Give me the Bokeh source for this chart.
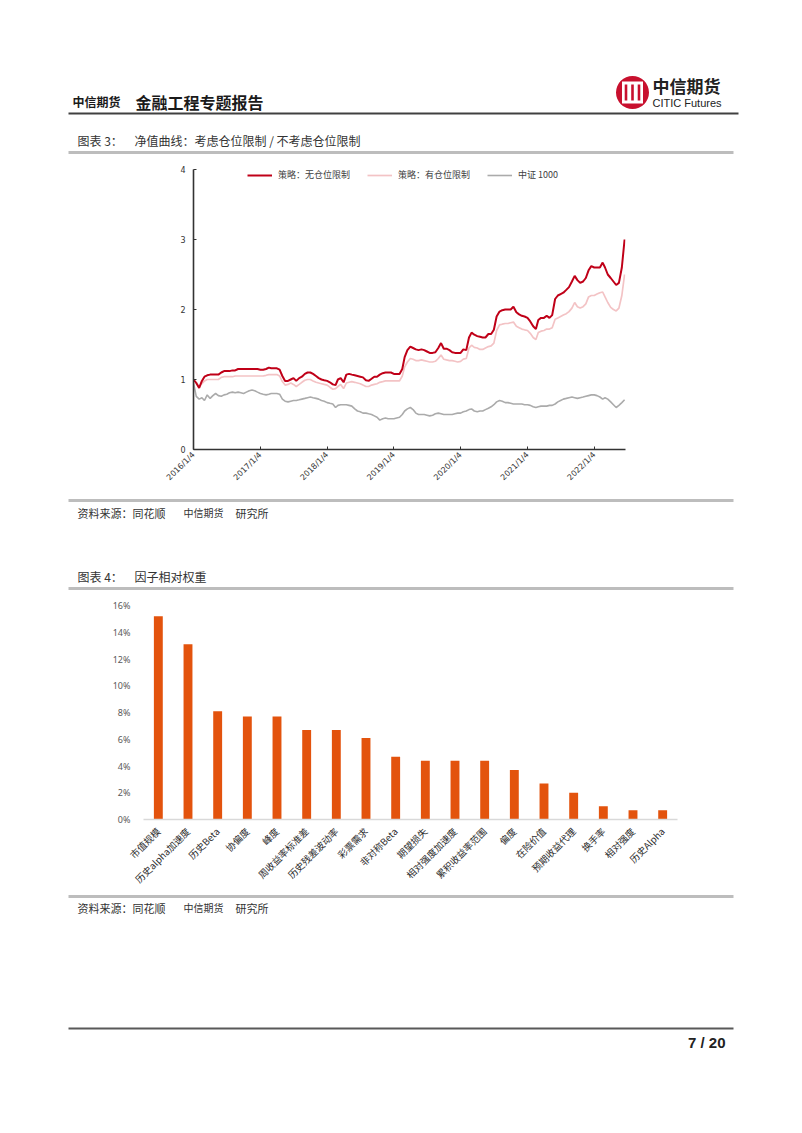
from math import pi
import pandas as pd
from bokeh.plotting import figure
from bokeh.models import (Range1d, FactorRange, FixedTicker, NumeralTickFormatter,
                          CustomJSTickFormatter, Legend, LegendItem)
from bokeh.embed import file_html
from bokeh.resources import INLINE
from bokeh.core.properties import value

CJK = "Noto Sans CJK SC"
W = 802

# ---------------- chart 1 data (net value curves, semi-monthly samples) ----------------
dates = [f"{y}-{m:02d}-{d:02d}" for y in range(2016, 2023) for m in range(1, 13) for d in (4, 19)][:156]

no_limit = [
    1.00, 0.95, 0.88, 0.98, 1.04, 1.06, 1.07, 1.07, 1.07, 1.07, 1.10, 1.12, 1.12, 1.12, 1.13, 1.13, 1.15, 1.15, 1.15, 1.15, 1.15, 1.15, 1.15, 1.15,
    1.14, 1.14, 1.15, 1.17, 1.16, 1.16, 1.16, 1.14, 1.05, 0.98, 0.98, 1.00, 1.02, 0.98, 1.02, 1.04, 1.08, 1.10, 1.10, 1.08, 1.05, 1.02, 1.00, 0.99,
    0.98, 0.96, 0.93, 0.92, 1.00, 1.02, 0.96, 1.07, 1.08, 1.07, 1.06, 1.05, 1.04, 1.03, 0.99, 0.98, 1.01, 1.04, 1.04, 1.07, 1.09, 1.10, 1.10, 1.10,
    1.08, 1.08, 1.08, 1.15, 1.32, 1.42, 1.47, 1.45, 1.43, 1.42, 1.43, 1.42, 1.40, 1.38, 1.38, 1.39, 1.45, 1.52, 1.44, 1.44, 1.42, 1.39, 1.38, 1.38,
    1.38, 1.43, 1.42, 1.60, 1.67, 1.64, 1.62, 1.61, 1.60, 1.60, 1.65, 1.65, 1.71, 1.90, 1.97, 1.99, 2.00, 2.00, 2.00, 2.04, 1.96, 1.93, 1.91, 1.90,
    1.88, 1.83, 1.76, 1.72, 1.85, 1.88, 1.88, 1.91, 1.88, 1.92, 2.15, 2.20, 2.22, 2.24, 2.28, 2.32, 2.40, 2.48, 2.42, 2.38, 2.40, 2.45, 2.56, 2.62,
    2.60, 2.60, 2.60, 2.67, 2.60, 2.50, 2.45, 2.40, 2.35, 2.38, 2.60, 3.00,
]
with_limit = [
    1.00, 0.96, 0.90, 0.94, 0.98, 1.00, 1.00, 1.00, 1.00, 1.00, 1.03, 1.04, 1.04, 1.04, 1.04, 1.05, 1.05, 1.05, 1.05, 1.05, 1.05, 1.05, 1.05, 1.05,
    1.05, 1.05, 1.06, 1.07, 1.07, 1.07, 1.07, 1.05, 0.97, 0.92, 0.93, 0.95, 0.93, 0.90, 0.93, 0.96, 0.99, 1.00, 1.00, 0.98, 0.96, 0.95, 0.94, 0.93,
    0.92, 0.89, 0.86, 0.87, 0.90, 0.93, 0.87, 0.95, 0.96, 0.97, 0.96, 0.95, 0.94, 0.92, 0.90, 0.90, 0.92, 0.93, 0.94, 0.96, 0.97, 0.98, 0.98, 0.98,
    0.98, 0.98, 0.98, 1.05, 1.18, 1.25, 1.30, 1.29, 1.27, 1.27, 1.28, 1.27, 1.26, 1.25, 1.25, 1.26, 1.30, 1.35, 1.29, 1.28, 1.27, 1.27, 1.26, 1.25,
    1.26, 1.29, 1.30, 1.45, 1.49, 1.46, 1.45, 1.43, 1.43, 1.45, 1.47, 1.48, 1.52, 1.70, 1.78, 1.79, 1.80, 1.80, 1.81, 1.82, 1.76, 1.74, 1.72, 1.71,
    1.70, 1.66, 1.60, 1.57, 1.67, 1.69, 1.70, 1.72, 1.72, 1.74, 1.86, 1.88, 1.90, 1.92, 1.94, 1.97, 2.02, 2.10, 2.04, 2.02, 2.04, 2.08, 2.18, 2.20,
    2.20, 2.22, 2.24, 2.25, 2.18, 2.10, 2.03, 2.00, 1.98, 2.02, 2.20, 2.50,
]
csi1000 = [
    0.95, 0.76, 0.72, 0.74, 0.70, 0.78, 0.73, 0.77, 0.80, 0.77, 0.76, 0.78, 0.79, 0.81, 0.82, 0.81, 0.82, 0.81, 0.80, 0.82, 0.84, 0.85, 0.84, 0.82,
    0.80, 0.79, 0.78, 0.79, 0.80, 0.80, 0.80, 0.79, 0.72, 0.69, 0.68, 0.69, 0.70, 0.70, 0.71, 0.72, 0.73, 0.74, 0.75, 0.74, 0.73, 0.72, 0.70, 0.69,
    0.67, 0.66, 0.65, 0.60, 0.63, 0.64, 0.64, 0.64, 0.63, 0.62, 0.58, 0.55, 0.54, 0.52, 0.52, 0.51, 0.50, 0.48, 0.46, 0.42, 0.44, 0.45, 0.44, 0.44,
    0.44, 0.45, 0.46, 0.50, 0.55, 0.58, 0.60, 0.57, 0.52, 0.50, 0.50, 0.50, 0.49, 0.48, 0.49, 0.51, 0.52, 0.51, 0.50, 0.50, 0.50, 0.50, 0.51, 0.52,
    0.52, 0.54, 0.55, 0.57, 0.58, 0.55, 0.54, 0.55, 0.55, 0.57, 0.59, 0.61, 0.64, 0.68, 0.70, 0.69, 0.67, 0.67, 0.66, 0.65, 0.65, 0.65, 0.65, 0.64,
    0.64, 0.63, 0.61, 0.60, 0.61, 0.62, 0.62, 0.62, 0.63, 0.63, 0.65, 0.68, 0.70, 0.72, 0.73, 0.74, 0.75, 0.74, 0.73, 0.74, 0.75, 0.76, 0.77, 0.78,
    0.78, 0.77, 0.75, 0.72, 0.74, 0.72, 0.68, 0.64, 0.60, 0.63, 0.67, 0.71,
]
series_labels = ["策略：无仓位限制", "策略：有仓位限制", "中证 1000"]
tick_dates = ["2016-01-04", "2017-01-04", "2018-01-04", "2019-01-04", "2020-01-04", "2021-01-04", "2022-01-04"]
tick_labels = ["2016/1/4", "2017/1/4", "2018/1/4", "2019/1/4", "2020/1/4", "2021/1/4", "2022/1/4"]
y1_ticks = [0, 1, 2, 3, 4]

# ---------------- chart 2 data (factor relative weights) ----------------
factors = ["市值规模", "历史alpha加速度", "历史Beta", "协偏度", "峰度", "周收益率标准差", "历史残差波动率",
           "彩票需求", "非对称Beta", "期望损失", "相对强度加速度", "累积收益率范围", "偏度", "在险价值",
           "预期收益代理", "换手率", "相对强度", "历史Alpha"]
weights = [0.152, 0.131, 0.081, 0.077, 0.077, 0.067, 0.067, 0.061, 0.047, 0.044, 0.044, 0.044,
           0.037, 0.027, 0.020, 0.010, 0.007, 0.007]
y2_ticks = [0, 0.02, 0.04, 0.06, 0.08, 0.10, 0.12, 0.14, 0.16]


def deco(top, bottom):
    p = figure(width=W, height=bottom - top, x_range=Range1d(0, W), y_range=Range1d(bottom, top),
               output_backend="svg", toolbar_location=None, x_axis_location=None, y_axis_location=None,
               min_border=0, outline_line_color=None, background_fill_color="white",
               border_fill_color="white")
    p.xgrid.visible = False
    p.ygrid.visible = False
    return p


def txt(p, x, y, s, size="12px", bold=False, color="#333333", align="left", font=CJK):
    p.text(x=[x], y=[y], text=[s], text_font=value(font), text_font_size=size,
           text_font_style="bold" if bold else "normal", text_color=color,
           text_align=align, text_baseline="middle")


GRAY_SEP = "#bdbdbd"

# ---------------- header ----------------
head = deco(0, 155)
txt(head, 72, 101, "中信期货", size="12px", bold=True, color="#1a1a1a")
txt(head, 135, 101, "金融工程专题报告", size="16px", bold=True, color="#1a1a1a")
head.circle(x=[632], y=[92], radius=16.5, fill_color="#C8102E", line_color=None)
head.rect(x=[632], y=[92], width=21, height=22, fill_color="white", line_color=None)
head.rect(x=[625.5, 632, 638.5], y=[92, 92, 92], width=2.6, height=16, fill_color="#C8102E", line_color=None)
txt(head, 652, 85, "中信期货", size="17px", bold=True, color="#222222")
txt(head, 652, 102, "CITIC Futures", size="11px", color="#222222", font="Liberation Sans")
head.line(x=[68, 738], y=[113, 113], line_width=2, line_color="#404040")
txt(head, 77, 140, "图表 3：", size="12px")
txt(head, 134, 140, "净值曲线：考虑仓位限制 / 不考虑仓位限制", size="12px")
head.line(x=[68, 733], y=[152, 152], line_width=3, line_color=GRAY_SEP)

# ---------------- chart 1 ----------------
x_dates = pd.to_datetime(dates)
tick_ms = [int(t.value // 10**6) for t in pd.to_datetime(tick_dates)]

p1 = figure(width=W, height=342, x_axis_type="datetime",
            x_range=Range1d(pd.Timestamp("2016-01-04"), pd.Timestamp("2022-06-24")),
            y_range=Range1d(0, 4), output_backend="svg", toolbar_location=None,
            min_border_left=193, min_border_right=177, min_border_top=14, min_border_bottom=48,
            outline_line_color=None, background_fill_color="white", border_fill_color="white")
p1.xgrid.visible = False
p1.ygrid.visible = False
r_gray = p1.line(x_dates, csi1000, line_color="#ABABAB", line_width=1.6)
r_pink = p1.line(x_dates, with_limit, line_color="#F3C3C5", line_width=1.7)
r_red = p1.line(x_dates, no_limit, line_color="#C00018", line_width=2)

for ax in (p1.xaxis[0], p1.yaxis[0]):
    ax.axis_line_color = "#333333"
    ax.axis_line_width = 1.6
    ax.major_tick_in = 3
    ax.major_tick_out = 0
    ax.major_tick_line_color = "#333333"
    ax.minor_tick_line_color = None
    ax.major_label_text_font = "DejaVu Sans"
    ax.major_label_text_color = "#333333"
    ax.major_label_text_font_size = "8px"
p1.xaxis[0].ticker = FixedTicker(ticks=tick_ms)
p1.xaxis[0].formatter = CustomJSTickFormatter(
    args=dict(tick_vals=tick_ms, tick_names=tick_labels),
    code="const i = tick_vals.indexOf(tick); return i >= 0 ? tick_names[i] : '';")
p1.xaxis[0].major_label_orientation = pi / 4
p1.xaxis[0].major_label_standoff = 4
p1.yaxis[0].ticker = FixedTicker(ticks=y1_ticks)
p1.yaxis[0].major_label_standoff = 8

legend = Legend(items=[LegendItem(label=series_labels[0], renderers=[r_red]),
                       LegendItem(label=series_labels[1], renderers=[r_pink]),
                       LegendItem(label=series_labels[2], renderers=[r_gray])],
                orientation="horizontal", location=(54, 268),
                label_text_font=CJK, label_text_font_size="9px", label_text_color="#404040",
                glyph_width=25, glyph_height=8, label_height=8, label_standoff=6, spacing=17,
                padding=0, margin=0, border_line_color=None, background_fill_alpha=0)
p1.add_layout(legend)

# ---------------- middle text block ----------------
mid = deco(497, 595)
mid.line(x=[68, 733], y=[500, 500], line_width=3, line_color=GRAY_SEP)
txt(mid, 77, 512, "资料来源：同花顺", size="11px")
txt(mid, 183, 512, "中信期货", size="10px")
txt(mid, 235, 512, "研究所", size="11px")
txt(mid, 77, 576, "图表 4：", size="12px")
txt(mid, 134, 576, "因子相对权重", size="12px")
mid.line(x=[68, 733], y=[588, 588], line_width=3, line_color=GRAY_SEP)

# ---------------- chart 2 ----------------
p2 = figure(width=W, height=298, x_range=FactorRange(factors=factors), y_range=Range1d(0, 0.16),
            output_backend="svg", toolbar_location=None,
            min_border_left=143, min_border_right=125, min_border_top=10, min_border_bottom=73,
            outline_line_color=None, background_fill_color="white", border_fill_color="white")
p2.xgrid.visible = False
p2.ygrid.visible = False
p2.vbar(x=factors, top=weights, width=0.3, fill_color="#E3530D", line_color=None)
ya = p2.yaxis[0]
ya.ticker = FixedTicker(ticks=y2_ticks)
ya.formatter = NumeralTickFormatter(format="0%")
ya.axis_line_color = None
ya.major_tick_line_color = None
ya.minor_tick_line_color = None
ya.major_label_text_font = "Noto Sans"
ya.major_label_text_font_size = "9px"
ya.major_label_text_color = "#595959"
ya.major_label_standoff = 7
xa = p2.xaxis[0]
xa.axis_line_color = "#d9d9d9"
xa.axis_line_width = 1.5
xa.major_tick_line_color = None
xa.minor_tick_line_color = None
xa.major_label_orientation = pi / 4
xa.major_label_text_font = CJK
xa.major_label_text_font_size = "9.5px"
xa.major_label_text_color = "#2b2b2b"
xa.major_label_standoff = 4

# ---------------- footer ----------------
foot = deco(893, 1133)
foot.line(x=[68, 733], y=[896, 896], line_width=3, line_color=GRAY_SEP)
txt(foot, 77, 907, "资料来源：同花顺", size="11px")
txt(foot, 183, 907, "中信期货", size="10px")
txt(foot, 235, 907, "研究所", size="11px")
foot.line(x=[68, 733], y=[1028, 1028], line_width=2, line_color="#595959")
txt(foot, 725, 1042, "7 / 20", size="15px", bold=True, color="#222222", align="right",
    font="Liberation Sans")

# separate roots, stacked in page order (no cross-plot frame alignment)
open("out.html", "w").write(file_html([head, p1, mid, p2, foot], INLINE))
